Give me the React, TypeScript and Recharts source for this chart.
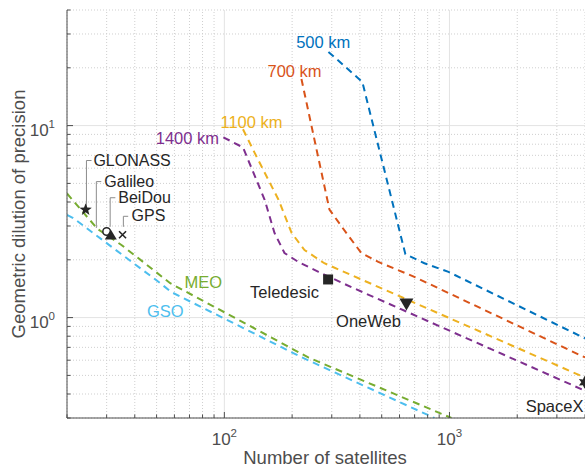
import React from "react";
import { ComposedChart, Line, Scatter, XAxis, YAxis, ReferenceLine } from "recharts";

const FONT = '"Liberation Sans", Arial, Helvetica, sans-serif';

// [number of satellites, GDOP]
const orbit500 = [[290, 24.2], [410, 16.9], [637, 2.14], [774, 1.92], [990, 1.73], [4000, 0.78]];
const orbit700 = [[220, 17.5], [293, 3.65], [348, 2.76], [406, 2.17], [483, 1.95], [698, 1.63], [4000, 0.62]];
const orbit1100 = [[121, 9.57], [136, 7.25], [174, 4.11], [199, 2.76], [227, 2.25], [278, 1.92], [4000, 0.487]];
const orbit1400 = [[99, 8.69], [121, 7.7], [151, 4.11], [167, 2.76], [185, 2.17], [213, 1.95], [262, 1.73], [367, 1.44], [4000, 0.416]];
const meo = [[20, 4.43], [27.3, 2.9], [34.9, 2.39], [57.5, 1.51], [119, 0.956], [236, 0.62], [1020, 0.3]];
const gso = [[20, 3.43], [21.3, 3.3], [34.9, 2.14], [52, 1.51], [58, 1.36], [113, 0.92], [220, 0.622], [858, 0.3]];

// existing constellations
const systems = [
  ["GLONASS", 24.2, 3.65],
  ["Galileo", 30, 2.81],
  ["BeiDou", 31.3, 2.68],
  ["GPS", 35.3, 2.7],
  ["Teledesic", 289, 1.58],
  ["OneWeb", 644, 1.17],
  ["SpaceX", 3980, 0.46],
];

// text annotations: [text, x, y]
const curveLabels = [
  ["500 km", 275, 27.3],
  ["700 km", 205, 19.2],
  ["1100 km", 132, 10.4],
  ["1400 km", 68.5, 8.58],
  ["MEO", 80.7, 1.53],
  ["GSO", 54.7, 1.08],
  ["Teledesic", 185, 1.36],
  ["OneWeb", 437, 0.956],
  ["SpaceX", 2930, 0.347],
];
const gnssLabels = [
  ["GLONASS", 26.2, 6.55],
  ["Galileo", 29.3, 5.13],
  ["BeiDou", 33.8, 4.2],
  ["GPS", 38.7, 3.39],
];
// callout leader polylines
const leaders = [
  [[24.4, 3.73], [24.4, 6.58], [25.7, 6.58]],
  [[27, 2.93], [27, 5.11], [28.4, 5.11]],
  [[31.1, 2.97], [31.1, 4.21], [32.8, 4.21]],
  [[35.6, 2.97], [35.6, 3.37], [37.4, 3.37]],
];

const xMajor = [100, 1000];
const xMinor = [20, 30, 40, 50, 60, 70, 80, 90, 200, 300, 400, 500, 600, 700, 800, 900, 2000, 3000, 4000];
const yMajor = [1, 10];
const yMinor = [0.3, 0.4, 0.5, 0.6, 0.7, 0.8, 0.9, 2, 3, 4, 5, 6, 7, 8, 9, 20, 30, 40];

const pts = (a: any[]) => a.map(([x, y]) => ({ x, y }));

const curves = [
  { key: "500", data: orbit500, color: "#0072BD" },
  { key: "700", data: orbit700, color: "#D95319" },
  { key: "1100", data: orbit1100, color: "#EDB120" },
  { key: "1400", data: orbit1400, color: "#7E2F8E" },
  { key: "meo", data: meo, color: "#77AC30" },
  { key: "gso", data: gso, color: "#4DBEEE" },
];

const labelColor: Record<string, string> = {
  "500 km": "#0072BD",
  "700 km": "#D95319",
  "1100 km": "#EDB120",
  "1400 km": "#7E2F8E",
  MEO: "#77AC30",
  GSO: "#4DBEEE",
};

const INK = "#262626";
const AXIS = "#4d4d4d";

function starPath(cx: number, cy: number, n: number, ro: number, ri: number) {
  let d = "";
  for (let i = 0; i < n * 2; i++) {
    const r = i % 2 === 0 ? ro : ri;
    const a = -Math.PI / 2 + (i * Math.PI) / n;
    d += (i === 0 ? "M" : "L") + (cx + r * Math.cos(a)).toFixed(2) + "," + (cy + r * Math.sin(a)).toFixed(2);
  }
  return d + "Z";
}

function Marker(p: any) {
  const { cx, cy } = p;
  const name = p.payload.name;
  if (name === "GLONASS") return <path d={starPath(cx, cy, 5, 6.5, 2.7)} fill={INK} />;
  if (name === "Galileo") return <circle cx={cx} cy={cy} r={3.8} fill="#fff" stroke={INK} strokeWidth={1.5} />;
  if (name === "BeiDou") return <path d={`M${cx},${cy - 6}L${cx + 6},${cy + 4}L${cx - 6},${cy + 4}Z`} fill={INK} />;
  if (name === "GPS")
    return (
      <path d={`M${cx - 3.5},${cy - 3.5}L${cx + 3.5},${cy + 3.5}M${cx - 3.5},${cy + 3.5}L${cx + 3.5},${cy - 3.5}`} stroke={INK} strokeWidth={1.6} />
    );
  if (name === "Teledesic") return <rect x={cx - 5} y={cy - 5} width={10} height={10} fill={INK} />;
  if (name === "OneWeb") return <path d={`M${cx - 7},${cy - 6}L${cx + 7},${cy - 6}L${cx},${cy + 6}Z`} fill={INK} />;
  return <path d={starPath(cx, cy, 6, 6.5, 3.2)} fill={INK} />;
}

function CenterText(p: any) {
  return (
    <text x={p.cx} y={p.cy} textAnchor="middle" dominantBaseline="central" fontSize={16.5} fontFamily={FONT} fill={labelColor[p.payload.name] || INK}>
      {p.payload.name}
    </text>
  );
}

function StartText(p: any) {
  return (
    <text x={p.cx} y={p.cy} textAnchor="start" dominantBaseline="central" fontSize={16} fontFamily={FONT} fill={INK}>
      {p.payload.name}
    </text>
  );
}

function XTick(p: any) {
  const { x, y, payload } = p;
  const major = xMajor.includes(payload.value);
  return (
    <g>
      <line x1={x} x2={x} y1={y} y2={y - (major ? 6 : 3.5)} stroke={AXIS} />
      {major && (
        <text x={x} y={y + 27} textAnchor="middle" fontSize={17} fontFamily={FONT} fill={AXIS}>
          10
          <tspan dy={-8} fontSize={11.5}>
            {Math.round(Math.log10(payload.value))}
          </tspan>
        </text>
      )}
    </g>
  );
}

function YTick(p: any) {
  const { x, y, payload } = p;
  const major = yMajor.includes(payload.value);
  return (
    <g>
      <line x1={x} x2={x + (major ? 6 : 3.5)} y1={y} y2={y} stroke={AXIS} />
      {major && (
        <text x={x - 12} y={y + 10} textAnchor="end" fontSize={17} fontFamily={FONT} fill={AXIS}>
          10
          <tspan dy={-8} fontSize={11.5}>
            {Math.round(Math.log10(payload.value))}
          </tspan>
        </text>
      )}
    </g>
  );
}

export default function App() {
  const named = (a: any[]) => a.map(([name, x, y]) => ({ name, x, y }));
  return (
    <div style={{ position: "absolute", left: 0, top: 0, width: 585, height: 470, background: "#fff" }}>
      <ComposedChart width={585} height={470} margin={{ top: 10, right: 0, bottom: 0, left: 0 }}>
        <XAxis
          type="number"
          dataKey="x"
          scale="log"
          domain={[20, 4000]}
          allowDataOverflow
          ticks={[...xMinor, ...xMajor].sort((a, b) => a - b)}
          interval={0}
          tick={<XTick />}
          tickLine={false}
          tickSize={0}
          tickMargin={0}
          height={52}
          axisLine={{ stroke: AXIS }}
          label={{
            content: (lp: any) => {
              const vb = lp.viewBox || { x: 67, y: 418, width: 518, height: 52 };
              return (
                <text x={vb.x + vb.width / 2 - 1} y={vb.y + 46} textAnchor="middle" fontSize={18.5} fontFamily={FONT} fill={AXIS}>
                  Number of satellites
                </text>
              );
            },
          }}
        />
        <YAxis
          type="number"
          dataKey="y"
          scale="log"
          domain={[0.3, 40]}
          allowDataOverflow
          ticks={[...yMinor, ...yMajor].sort((a, b) => a - b)}
          interval={0}
          tick={<YTick />}
          tickLine={false}
          tickSize={0}
          tickMargin={0}
          width={67}
          axisLine={{ stroke: AXIS }}
          label={{
            content: (lp: any) => {
              const vb = lp.viewBox || { x: 0, y: 10, width: 67, height: 408 };
              const cx = vb.x + 18;
              const cy = vb.y + vb.height / 2;
              return (
                <text x={cx} y={cy} transform={`rotate(-90 ${cx} ${cy})`} textAnchor="middle" dominantBaseline="central" fontSize={18.5} fontFamily={FONT} fill={AXIS}>
                  Geometric dilution of precision
                </text>
              );
            },
          }}
        />
        {xMinor.map((v) => (
          <ReferenceLine key={"xm" + v} x={v} stroke="#cfcfcf" strokeDasharray="1 2" />
        ))}
        {yMinor.map((v) => (
          <ReferenceLine key={"ym" + v} y={v} stroke="#cfcfcf" strokeDasharray="1 2" />
        ))}
        {xMajor.map((v) => (
          <ReferenceLine key={"xM" + v} x={v} stroke="#e3e3e3" />
        ))}
        {yMajor.map((v) => (
          <ReferenceLine key={"yM" + v} y={v} stroke="#e3e3e3" />
        ))}
        {curves.map((c) => (
          <Line
            key={c.key}
            data={pts(c.data)}
            dataKey="y"
            type="linear"
            stroke={c.color}
            strokeWidth={2}
            strokeDasharray="7 5"
            dot={false}
            activeDot={false}
            isAnimationActive={false}
          />
        ))}
        {leaders.map((l, i) => (
          <Line key={"ld" + i} data={pts(l)} dataKey="y" type="linear" stroke="#8c8c8c" strokeWidth={1} dot={false} activeDot={false} isAnimationActive={false} />
        ))}
        <Scatter data={named(systems)} shape={<Marker />} isAnimationActive={false} />
        <Scatter data={named(curveLabels)} shape={<CenterText />} isAnimationActive={false} />
        <Scatter data={named(gnssLabels)} shape={<StartText />} isAnimationActive={false} />
      </ComposedChart>
    </div>
  );
}
